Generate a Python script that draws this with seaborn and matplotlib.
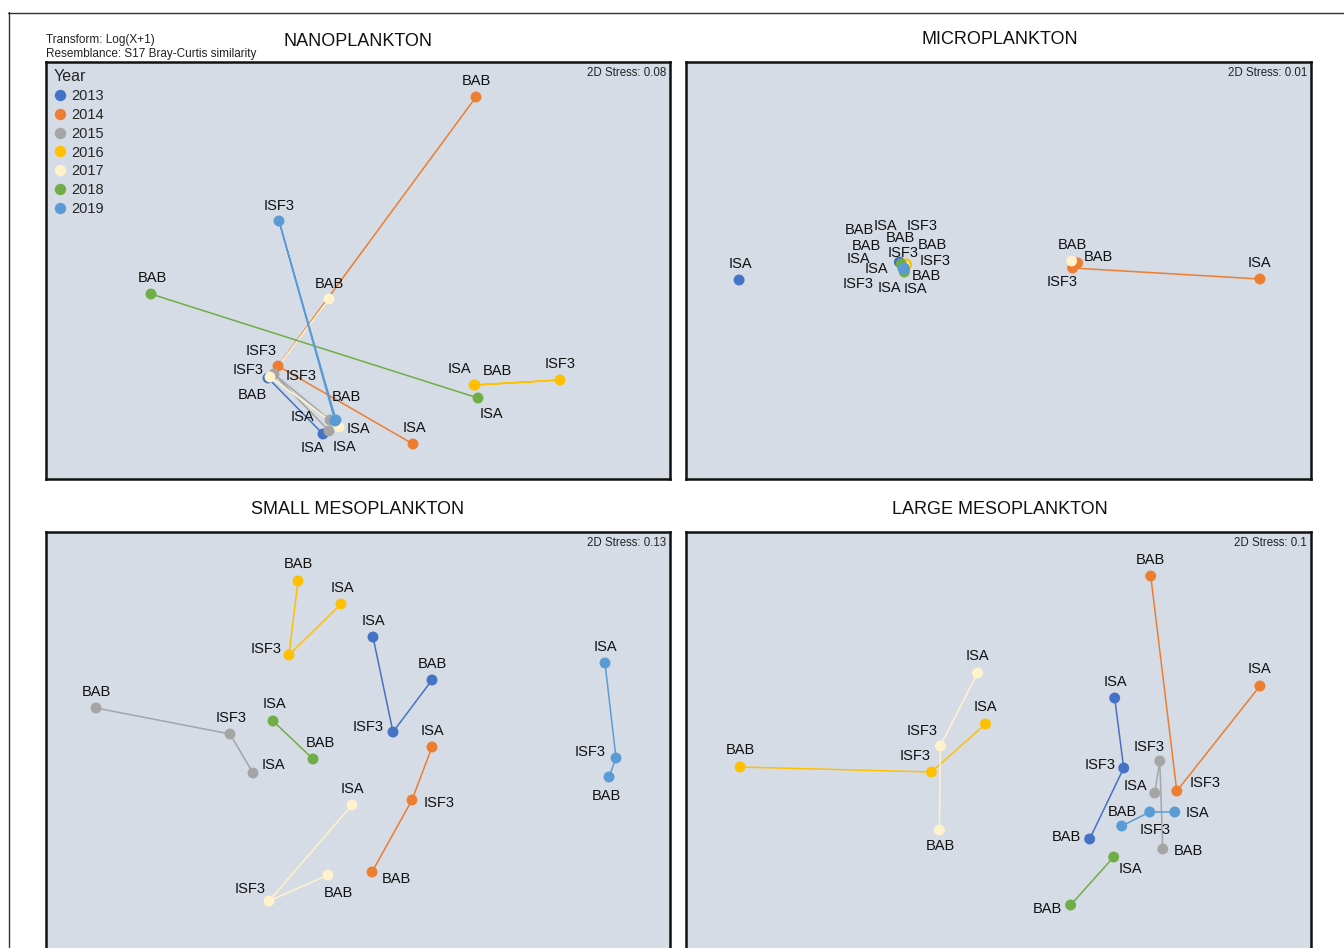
import matplotlib
matplotlib.use("Agg")
import matplotlib.pyplot as plt
from matplotlib.lines import Line2D
import pandas as pd
import seaborn as sns

# ---------------------------------------------------------------- data
YEARS = ["2013", "2014", "2015", "2016", "2017", "2018", "2019"]
YEAR_COLORS = ["#4472C4", "#ED7D31", "#A5A5A5", "#FFC000", "#FFF2CC", "#70AD47", "#5B9BD5"]

PANEL_TITLES = ["NANOPLANKTON", "MICROPLANKTON", "SMALL MESOPLANKTON", "LARGE MESOPLANKTON"]
STRESS = [0.08, 0.01, 0.13, 0.1]

# samples of the nano/micro fraction (no ISF3 in 2013 and 2018)
PICO_YEAR = ["2013", "2013", "2014", "2014", "2014", "2015", "2015", "2015", "2016", "2016",
             "2016", "2017", "2017", "2017", "2018", "2018", "2019", "2019", "2019"]
PICO_SITE = ["BAB", "ISA", "BAB", "ISF3", "ISA", "BAB", "ISF3", "ISA", "BAB", "ISF3",
             "ISA", "BAB", "ISF3", "ISA", "BAB", "ISA", "BAB", "ISF3", "ISA"]

# samples of the mesozooplankton fractions (no ISF3 in 2018)
MESO_YEAR = ["2013", "2013", "2013", "2014", "2014", "2014", "2015", "2015", "2015", "2016",
             "2016", "2016", "2017", "2017", "2017", "2018", "2018", "2019", "2019", "2019"]
MESO_SITE = ["BAB", "ISF3", "ISA", "BAB", "ISF3", "ISA", "BAB", "ISF3", "ISA", "BAB",
             "ISF3", "ISA", "BAB", "ISF3", "ISA", "BAB", "ISA", "BAB", "ISF3", "ISA"]

# nMDS scores
NANO_MDS1 = [2.22, 2.77, 4.30, 2.32, 3.67, 2.84, 2.28, 2.83, 4.29, 5.14,
             4.28, 2.83, 2.24, 2.93, 1.05, 4.32, 2.90, 2.33, 2.89]
NANO_MDS2 = [1.01, 0.45, 3.82, 1.13, 0.35, 0.59, 1.05, 0.48, 0.94, 0.99,
             0.94, 1.80, 1.02, 0.52, 1.85, 0.81, 0.59, 2.58, 0.58]

MICRO_MDS1 = [2.13, 0.53, 3.91, 3.86, 5.73, 2.17, 2.16, 2.17, 2.20, 2.20,
              2.19, 3.85, 2.17, 2.18, 2.15, 2.18, 2.18, 2.18, 2.17]
MICRO_MDS2 = [2.17, 1.99, 2.16, 2.11, 2.00, 2.13, 2.12, 2.14, 2.15, 2.14,
              2.15, 2.18, 2.12, 2.13, 2.15, 2.07, 2.10, 2.11, 2.10]

SMALL_MDS1 = [3.86, 3.47, 3.27, 3.26, 3.66, 3.86, 0.50, 1.84, 2.07, 2.52,
              2.43, 2.95, 2.82, 2.23, 3.06, 2.67, 2.27, 5.63, 5.70, 5.59]
SMALL_MDS2 = [2.69, 2.17, 3.12, 0.77, 1.49, 2.02, 2.41, 2.15, 1.76, 3.68,
              2.94, 3.45, 0.74, 0.48, 1.44, 1.90, 2.28, 1.72, 1.91, 2.86]

LARGE_MDS1 = [4.03, 4.37, 4.28, 4.64, 4.90, 5.73, 4.76, 4.73, 4.68, 0.54,
              2.45, 2.99, 2.53, 2.54, 2.91, 3.84, 4.27, 4.35, 4.63, 4.88]
LARGE_MDS2 = [1.10, 1.81, 2.51, 3.73, 1.58, 2.63, 1.00, 1.88, 1.56, 1.82,
              1.77, 2.25, 1.19, 2.03, 2.76, 0.44, 0.92, 1.23, 1.37, 1.37]

# ------------------------------------------------ label placement (pixels: right, down)
NANO_LABEL_SHIFT = [(-16, 17), (-11, 14), (0, -16), (-17, -15), (1, -16), None, (27, 2),
                    (15, 16), (22, -14), (0, -16), (-15, -16), (0, -15), (-22, -7), (19, 2),
                    (1, -16), (13, 16), (10, -23), (0, -15), (-33, -4)]
MICRO_LABEL_SHIFT = [(-33, -16), (1, -16), (21, -6), (-10, 14), (0, -16), (-44, -36), (-44, 17),
                     (-45, -6), (26, -19), (29, -4), (10, 25), (1, -16), (0, -14), (-19, -40),
                     (-1, -26), (-15, 16), (22, 7), (18, -42), (-27, 0)]
SMALL_LABEL_SHIFT = [(0, -16), (-25, -5), (0, -16), (24, 7), (27, 3), (0, -16), (0, -16),
                     (1, -16), (20, -8), (0, -17), (-23, -6), (1, -16), (10, 18), (-19, -12),
                     (0, -16), (7, -16), (1, -17), (-3, 19), (-26, -6), (0, -16)]
LARGE_LABEL_SHIFT = [(-23, -2), (-24, -3), (1, -16), (0, -16), (28, -8), (0, -17), (26, 2),
                     (-11, -14), (-19, -7), (0, -17), (-16, -16), (0, -17), (1, 16), (-18, -15),
                     (0, -17), (-23, 4), (17, 12), (1, -14), (5, 18), (23, 1)]

# years whose sites are joined by a trajectory line
NANO_JOINED = YEARS
MICRO_JOINED = ["2014"]
SMALL_JOINED = YEARS
LARGE_JOINED = YEARS

# ---------------------------------------------------------------- style
W, H = 1344, 948
DPI = 100
PX = 72.0 / DPI
PANEL_BG = "#D5DCE5"
palette = dict(zip(YEARS, YEAR_COLORS))

sns.set_theme(style="white")
plt.rcParams["font.family"] = ["Liberation Sans", "DejaVu Sans"]

fig = plt.figure(figsize=(W / DPI, H / DPI), dpi=DPI)
fig.patch.set_facecolor("white")


def fig_box(left, top, width, height):
    return [left / W, 1 - (top + height) / H, width / W, height / H]


panels = [
    (fig_box(46, 62, 624, 417), PICO_YEAR, PICO_SITE, NANO_MDS1, NANO_MDS2, NANO_LABEL_SHIFT, NANO_JOINED),
    (fig_box(686, 62, 625, 417), PICO_YEAR, PICO_SITE, MICRO_MDS1, MICRO_MDS2, MICRO_LABEL_SHIFT, MICRO_JOINED),
    (fig_box(46, 532, 624, 417), MESO_YEAR, MESO_SITE, SMALL_MDS1, SMALL_MDS2, SMALL_LABEL_SHIFT, SMALL_JOINED),
    (fig_box(686, 532, 625, 417), MESO_YEAR, MESO_SITE, LARGE_MDS1, LARGE_MDS2, LARGE_LABEL_SHIFT, LARGE_JOINED),
]

axes = []
for i, (box, yrs, sites, m1, m2, shifts, joined) in enumerate(panels):
    ax = fig.add_axes(box)
    axes.append(ax)
    df = pd.DataFrame({"year": yrs, "site": sites, "MDS1": m1, "MDS2": m2})

    lines = df[df["year"].isin(joined)]
    sns.lineplot(data=lines, x="MDS1", y="MDS2", hue="year", palette=palette,
                 sort=False, estimator=None, legend=False, linewidth=1.1, ax=ax, zorder=2)
    sns.scatterplot(data=df, x="MDS1", y="MDS2", hue="year", palette=palette,
                    s=62, linewidth=0, legend=False, ax=ax, zorder=3)

    for (x, y, s), shift in zip(df[["MDS1", "MDS2", "site"]].itertuples(index=False), shifts):
        if shift is None:
            continue
        ax.annotate(s, (x, y), xytext=(shift[0] * PX, -shift[1] * PX),
                    textcoords="offset points", ha="center", va="center",
                    fontsize=10.5, color="#111111", zorder=4)

    ax.set_xlim(0, 6.24)
    ax.set_ylim(0, 4.17)
    ax.set_xticks([])
    ax.set_yticks([])
    ax.set_xlabel("")
    ax.set_ylabel("")
    ax.set_facecolor(PANEL_BG)
    for sp in ax.spines.values():
        sp.set_visible(True)
        sp.set_color("#111111")
        sp.set_linewidth(1.8)

    ax.annotate(f"2D Stress: {STRESS[i]:g}", (1, 1), xycoords="axes fraction",
                xytext=(-4 * PX, -11 * PX), textcoords="offset points",
                ha="right", va="center", fontsize=8.3, color="#222222")

# year legend in the nano panel
handles = [Line2D([], [], marker="o", linestyle="", color=c, markersize=7.2) for c in YEAR_COLORS]
leg = axes[0].legend(handles, YEARS, title="Year", loc="upper left", bbox_to_anchor=(0, 1),
                     frameon=False, fontsize=10.5, title_fontsize=11.5, alignment="left",
                     labelspacing=0.33, handletextpad=0.35, handlelength=0.9,
                     borderpad=0.3, borderaxespad=0.2)

# panel titles
title_pos = [(358, 42), (1000, 40), (358, 510), (1000, 510)]
for t, (x, y) in zip(PANEL_TITLES, title_pos):
    fig.text(x / W, 1 - y / H, t, ha="center", va="center", fontsize=13, color="#111111")

fig.text(46 / W, 1 - 39.5 / H, "Transform: Log(X+1)", ha="left", va="center", fontsize=8.5, color="#222222")
fig.text(46 / W, 1 - 53.5 / H, "Resemblance: S17 Bray-Curtis similarity", ha="left", va="center",
         fontsize=8.5, color="#222222")

# outer frame
fig.add_artist(Line2D([8.5 / W, 8.5 / W], [0, 1 - 12 / H], transform=fig.transFigure,
                      color="#333333", linewidth=1.0))
fig.add_artist(Line2D([8 / W, 1], [1 - 12.5 / H, 1 - 12.5 / H], transform=fig.transFigure,
                      color="#333333", linewidth=1.0))

fig.savefig("out.png", dpi=DPI, facecolor="white")
